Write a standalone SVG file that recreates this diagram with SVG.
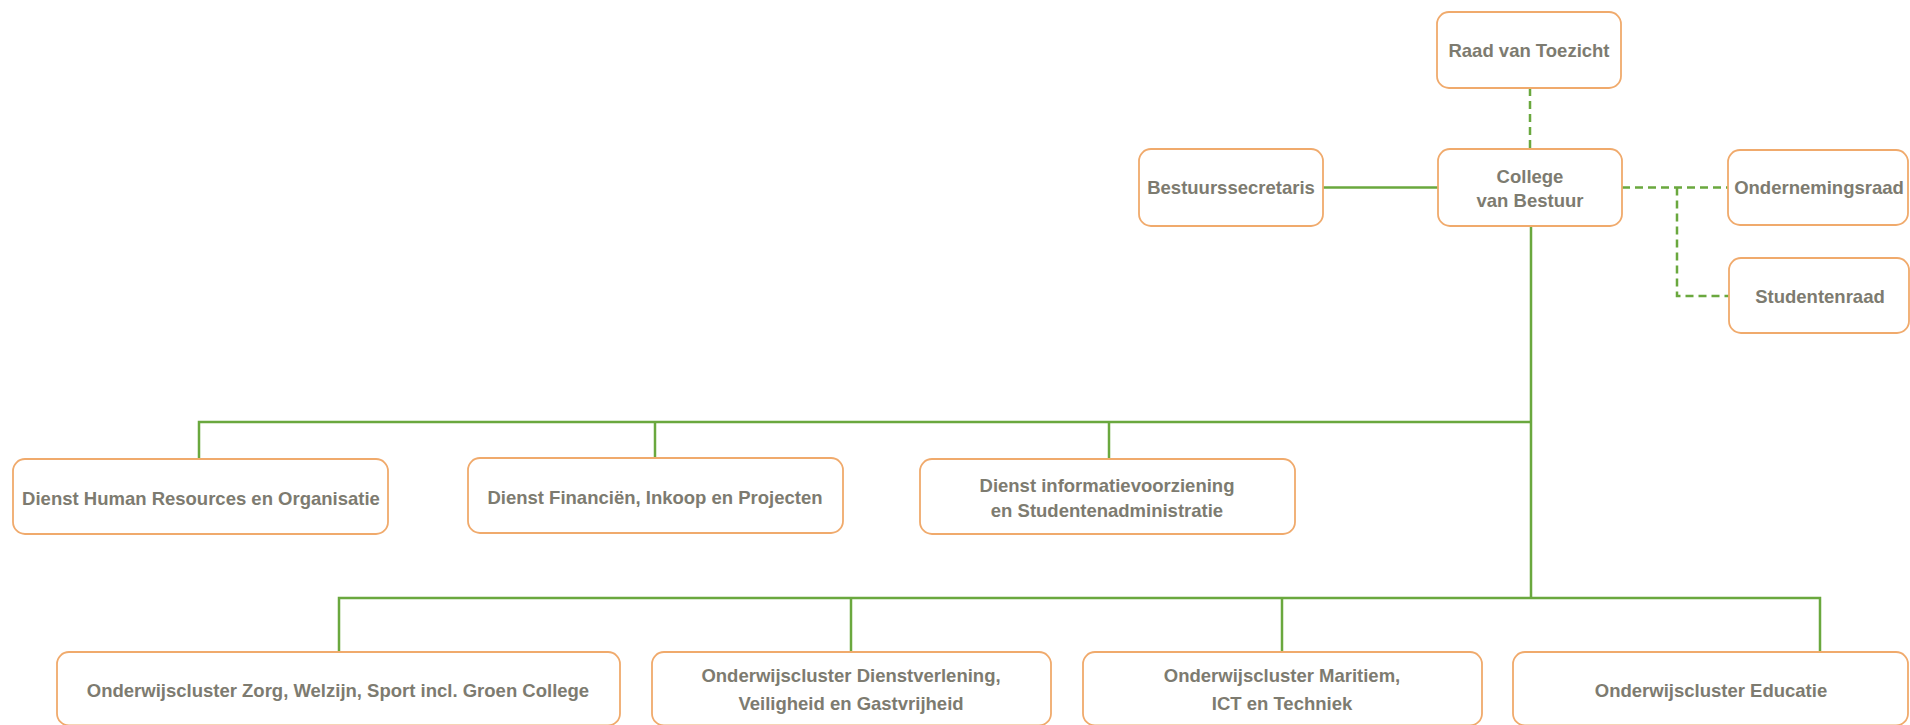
<svg xmlns="http://www.w3.org/2000/svg" width="1910" height="725" viewBox="0 0 1910 725">
<style>
.box{fill:#ffffff;stroke:#f0aa6c;stroke-width:1.8}
.t{font-family:"Liberation Sans",Arial,sans-serif;font-weight:bold;font-size:18.5px;fill:#7d7b70;text-anchor:middle}
.solid{fill:none;stroke:#6aa83e;stroke-width:2.5}
.dash{fill:none;stroke:#6aa83e;stroke-width:2.5;stroke-dasharray:8 5}
</style>
<rect x="0" y="0" width="1910" height="725" fill="#ffffff"/>
<g id="connectors">
<path class="dash" d="M1530 88 V149"/>
<path class="solid" d="M1323 187.5 H1438"/>
<path class="dash" d="M1622 187.5 H1728"/>
<path class="dash" d="M1677 187.5 V296 H1729"/>
<path class="solid" d="M1531 226 V598"/>
<path class="solid" d="M199 459 V422 H1531"/>
<path class="solid" d="M655 422 V458"/>
<path class="solid" d="M1109 422 V459"/>
<path class="solid" d="M339 652 V598 H1820 V652"/>
<path class="solid" d="M851 598 V652"/>
<path class="solid" d="M1282 598 V652"/>
</g>
<g id="raad">
<rect class="box" x="1437" y="12" width="184" height="76" rx="12"/>
<text class="t" x="1529" y="57">Raad van Toezicht</text>
</g>
<g id="college">
<rect class="box" x="1438" y="149" width="184" height="77" rx="12"/>
<text class="t" x="1530" y="183">College</text>
<text class="t" x="1530" y="207">van Bestuur</text>
</g>
<g id="bestuurssecretaris">
<rect class="box" x="1139" y="149" width="184" height="77" rx="12"/>
<text class="t" x="1231" y="194">Bestuurssecretaris</text>
</g>
<g id="ondernemingsraad">
<rect class="box" x="1728" y="150" width="180" height="75" rx="12"/>
<text class="t" x="1819" y="194">Ondernemingsraad</text>
</g>
<g id="studentenraad">
<rect class="box" x="1729" y="258" width="180" height="75" rx="12"/>
<text class="t" x="1820" y="303">Studentenraad</text>
</g>
<g id="dienst-hr">
<rect class="box" x="13" y="459" width="375" height="75" rx="12"/>
<text class="t" x="201" y="505">Dienst Human Resources en Organisatie</text>
</g>
<g id="dienst-financien">
<rect class="box" x="468" y="458" width="375" height="75" rx="12"/>
<text class="t" x="655" y="504">Dienst Financiën, Inkoop en Projecten</text>
</g>
<g id="dienst-info">
<rect class="box" x="920" y="459" width="375" height="75" rx="12"/>
<text class="t" x="1107" y="492">Dienst informatievoorziening</text>
<text class="t" x="1107" y="517">en Studentenadministratie</text>
</g>
<g id="cluster-zorg">
<rect class="box" x="57" y="652" width="563" height="73.5" rx="12"/>
<text class="t" x="338" y="697">Onderwijscluster Zorg, Welzijn, Sport incl. Groen College</text>
</g>
<g id="cluster-dienstverlening">
<rect class="box" x="652" y="652" width="399" height="73.5" rx="12"/>
<text class="t" x="851" y="682">Onderwijscluster Dienstverlening,</text>
<text class="t" x="851" y="710">Veiligheid en Gastvrijheid</text>
</g>
<g id="cluster-maritiem">
<rect class="box" x="1083" y="652" width="399" height="73.5" rx="12"/>
<text class="t" x="1282" y="682">Onderwijscluster Maritiem,</text>
<text class="t" x="1282" y="710">ICT en Techniek</text>
</g>
<g id="cluster-educatie">
<rect class="box" x="1513" y="652" width="395" height="73.5" rx="12"/>
<text class="t" x="1711" y="697">Onderwijscluster Educatie</text>
</g>
</svg>
